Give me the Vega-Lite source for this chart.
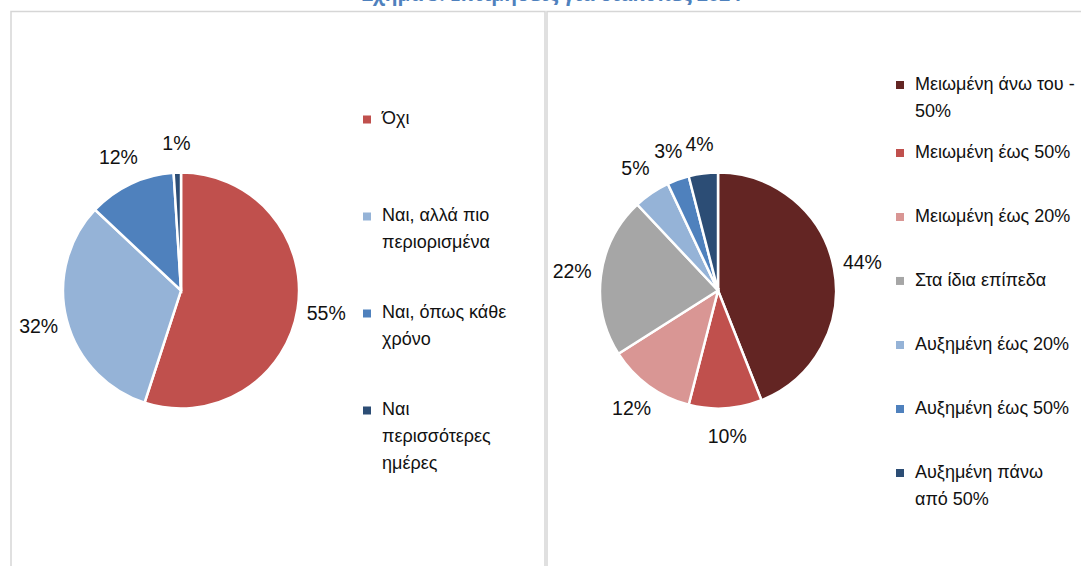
{
  "$schema": "https://vega.github.io/schema/vega-lite/v6.json",
  "padding": {"left": 10, "top": -15.5, "right": 0, "bottom": 0},
  "title": {"text": "Σχήμα 5: Εκτιμήσεις για διακοπές 2024", "font": "Open Sans", "fontSize": 19.5, "fontWeight": "bold", "color": "#4F81BD", "anchor": "middle", "offset": 5.5},
  "config": {
    "font": "Liberation Sans",
    "view": {"stroke": "#d6d6d6", "strokeWidth": 1.5},
    "style": {"guide-label": {"lineHeight": 27}},
    "legend": {"orient": "none", "labelFont": "Liberation Sans", "labelFontSize": 18, "labelColor": "#111111", "symbolType": "square", "symbolSize": 64, "symbolStrokeWidth": 0, "labelOffset": 6, "padding": 0, "labelLimit": 400, "labelBaseline": "middle"}
  },
  "spacing": 0,
  "resolve": {"scale": {"color": "independent"}, "legend": {"color": "independent"}},
  "hconcat": [
    {
      "width": 534,
      "height": 570,
      "data": {"values": [
        {"answer": "Όχι", "share": 0.55, "i": 1},
        {"answer": "Ναι, αλλά πιο περιορισμένα", "share": 0.32, "i": 2},
        {"answer": "Ναι, όπως κάθε χρόνο", "share": 0.12, "i": 3},
        {"answer": "Ναι περισσότερες ημέρες", "share": 0.01, "i": 4}
      ]},
      "encoding": {
        "x": {"datum": 0.3184, "type": "quantitative", "scale": {"domain": [0, 1]}, "axis": null},
        "y": {"datum": 0.4895, "type": "quantitative", "scale": {"domain": [0, 1], "reverse": true}, "axis": null},
        "theta": {"field": "share", "type": "quantitative", "stack": true},
        "order": {"field": "i", "type": "quantitative"}
      },
      "layer": [
        {
          "mark": {"type": "arc", "outerRadius": 118, "stroke": "white", "strokeWidth": 2.5},
          "encoding": {
            "color": {
              "field": "answer", "type": "nominal",
              "scale": {"domain": ["Όχι", "Ναι, αλλά πιο περιορισμένα", "Ναι, όπως κάθε χρόνο", "Ναι περισσότερες ημέρες"], "range": ["#C0504D", "#95B3D7", "#4F81BD", "#2C4D75"]},
              "legend": {"title": null, "legendX": 347, "legendY": 59.6, "clipHeight": 96.7, "rowPadding": 0,
                "labelExpr": "datum.label == 'Ναι, αλλά πιο περιορισμένα' ? ['Ναι, αλλά πιο', 'περιορισμένα'] : datum.label == 'Ναι, όπως κάθε χρόνο' ? ['Ναι, όπως κάθε', 'χρόνο'] : datum.label == 'Ναι περισσότερες ημέρες' ? ['Ναι', 'περισσότερες', 'ημέρες'] : datum.label"}
            }
          }
        },
        {
          "mark": {"type": "text", "radius": 147, "fontSize": 19.5, "color": "#111111", "font": "Liberation Sans"},
          "encoding": {"text": {"field": "share", "type": "quantitative", "format": ".0%"}}
        }
      ]
    },
    {
      "width": 545,
      "height": 570,
      "data": {"values": [
        {"level": "Μειωμένη άνω του -50%", "share": 0.44, "i": 1},
        {"level": "Μειωμένη έως 50%", "share": 0.10, "i": 2},
        {"level": "Μειωμένη έως 20%", "share": 0.12, "i": 3},
        {"level": "Στα ίδια επίπεδα", "share": 0.22, "i": 4},
        {"level": "Αυξημένη έως 20%", "share": 0.05, "i": 5},
        {"level": "Αυξημένη έως 50%", "share": 0.03, "i": 6},
        {"level": "Αυξημένη πάνω από 50%", "share": 0.04, "i": 7}
      ]},
      "encoding": {
        "x": {"datum": 0.3138, "type": "quantitative", "scale": {"domain": [0, 1]}, "axis": null},
        "y": {"datum": 0.4895, "type": "quantitative", "scale": {"domain": [0, 1], "reverse": true}, "axis": null},
        "theta": {"field": "share", "type": "quantitative", "stack": true},
        "order": {"field": "i", "type": "quantitative"}
      },
      "layer": [
        {
          "mark": {"type": "arc", "outerRadius": 118, "stroke": "white", "strokeWidth": 2.5},
          "encoding": {
            "color": {
              "field": "level", "type": "nominal",
              "scale": {"domain": ["Μειωμένη άνω του -50%", "Μειωμένη έως 50%", "Μειωμένη έως 20%", "Στα ίδια επίπεδα", "Αυξημένη έως 20%", "Αυξημένη έως 50%", "Αυξημένη πάνω από 50%"], "range": ["#632523", "#C0504D", "#D99694", "#A6A6A6", "#95B3D7", "#4F81BD", "#2C4D75"]},
              "legend": {"title": null, "legendX": 344, "legendY": 41.5, "clipHeight": 63.9, "rowPadding": 0,
                "labelExpr": "datum.label == 'Μειωμένη άνω του -50%' ? ['Μειωμένη άνω του -', '50%'] : datum.label == 'Αυξημένη πάνω από 50%' ? ['Αυξημένη πάνω', 'από 50%'] : datum.label"}
            }
          }
        },
        {
          "mark": {"type": "text", "radius": 147, "fontSize": 19.5, "color": "#111111", "font": "Liberation Sans"},
          "encoding": {"text": {"field": "share", "type": "quantitative", "format": ".0%"}}
        }
      ]
    }
  ]
}
